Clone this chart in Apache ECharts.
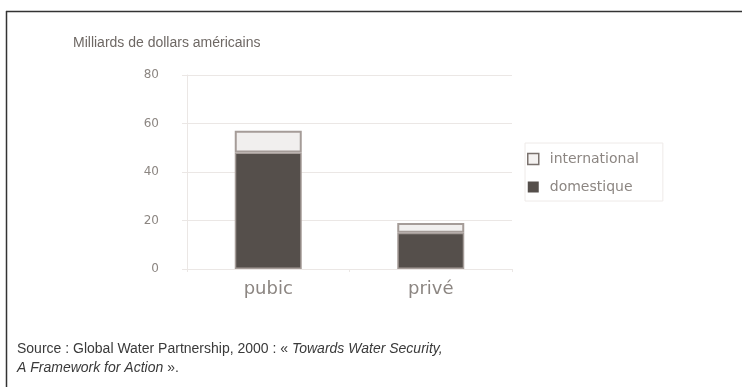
<!DOCTYPE html>
<html>
<head>
<meta charset="utf-8">
<script src="https://cdn.jsdelivr.net/npm/echarts@6/dist/echarts.min.js"></script>
<style>
  html, body { margin: 0; padding: 0; background: #fff; }
  #chart { width: 742px; height: 387px; }
</style>
</head>
<body>
<div id="chart"></div>
<script>
// Financement de l'eau, en milliards de dollars américains
const categories = ['pubic', 'privé'];
const domestique = [48, 15];
const international = [9, 4];
const yTicks = [0, 20, 40, 60, 80];

const labelColor = '#8c8682';
const gridColor = '#ebe7e5';
const barEdge = '#a59c98';

const chart = echarts.init(document.getElementById('chart'), null, { renderer: 'canvas' });

chart.setOption({
  animation: false,
  backgroundColor: '#ffffff',
  grid: { left: 187, right: 230, top: 75, bottom: 118 },
  legend: {
    orient: 'vertical',
    left: 525,
    top: 143,
    padding: [8, 24, 6, 2],
    itemGap: 12,
    itemWidth: 11,
    itemHeight: 11,
    borderColor: '#eeeae8',
    borderWidth: 1,
    icon: 'rect',
    textStyle: {
      color: labelColor, fontFamily: 'DejaVu Sans', fontSize: 14,
      lineHeight: 16, padding: [0, 0, 0, 6]
    },
    data: [
      { name: 'international', itemStyle: { color: '#f4f2f1', borderColor: '#7a726e', borderWidth: 1.5 } },
      { name: 'domestique', itemStyle: { color: '#554f4b', borderWidth: 0 } }
    ]
  },
  xAxis: {
    type: 'category',
    data: categories,
    axisLine: { show: true, lineStyle: { color: gridColor } },
    axisTick: { show: true, length: 3, lineStyle: { color: gridColor } },
    axisLabel: { color: labelColor, fontFamily: 'DejaVu Sans', fontSize: 18, margin: 11 }
  },
  yAxis: {
    type: 'value',
    min: 0,
    max: 80,
    interval: 20,
    axisLine: { show: true, lineStyle: { color: gridColor } },
    axisTick: { show: true, length: 5, lineStyle: { color: gridColor } },
    splitLine: { lineStyle: { color: gridColor } },
    axisLabel: {
      color: labelColor, fontFamily: 'DejaVu Sans', fontSize: 12, margin: 28,
      formatter: v => (yTicks.includes(v) ? String(v) : '')
    }
  },
  series: [
    {
      name: 'domestique',
      type: 'bar',
      stack: 'total',
      barWidth: 67,
      data: domestique,
      itemStyle: { color: '#554f4b', borderColor: barEdge, borderWidth: 1.5 }
    },
    {
      name: 'international',
      type: 'bar',
      stack: 'total',
      barWidth: 67,
      data: international,
      itemStyle: { color: '#f1efee', borderColor: barEdge, borderWidth: 2 }
    }
  ],
  graphic: [
    // cadre : trait supérieur et trait gauche
    { type: 'line', shape: { x1: 6, y1: 11.5, x2: 742, y2: 11.5 }, style: { stroke: '#333', lineWidth: 1.5 } },
    { type: 'line', shape: { x1: 6.5, y1: 11, x2: 6.5, y2: 387 }, style: { stroke: '#333', lineWidth: 1.5 } },
    {
      type: 'text', left: 73, top: 36,
      style: { text: 'Milliards de dollars américains', fill: '#6e6864', font: '14px "Liberation Sans"' }
    },
    {
      type: 'text', left: 17, top: 340,
      style: {
        rich: {
          n: { fill: '#3a3a3a', font: '14px "Liberation Sans Narrow", "Liberation Sans"' },
          i: { fill: '#3a3a3a', font: 'italic 14px "Liberation Sans Narrow", "Liberation Sans"' }
        },
        text: '{n|Source : Global Water Partnership, 2000 : « }{i|Towards Water Security,}\n{i|A Framework for Action}{n| ».}',
        lineHeight: 19
      }
    }
  ]
});
</script>
</body>
</html>
